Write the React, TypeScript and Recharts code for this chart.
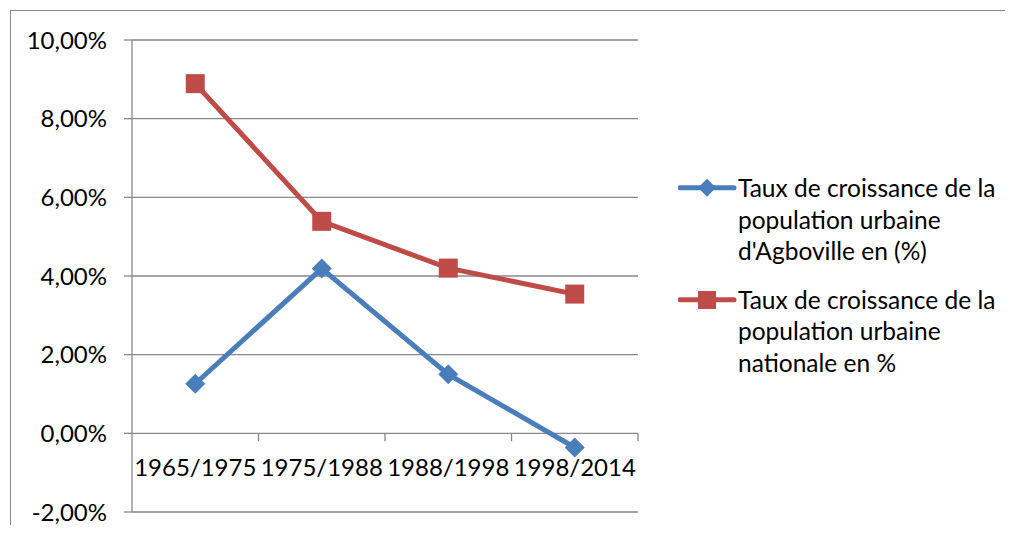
import React from 'react';
import { LineChart, Line, XAxis, YAxis, CartesianGrid, Legend, ReferenceLine } from 'recharts';

const categories = ['1965/1975', '1975/1988', '1988/1998', '1998/2014'];
const agboville = [1.26, 4.19, 1.5, -0.36];
const nationale = [8.89, 5.39, 4.2, 3.54];
const yTicks = [-2, 0, 2, 4, 6, 8, 10];
const seriesNames = {
  agboville: "Taux de croissance de la population urbaine d'Agboville en (%)",
  nationale: 'Taux de croissance de la population urbaine nationale en %',
};

const BLUE = '#4A7EBB';
const RED = '#BE4B48';
const GRID = '#888888';
const FONT = 'Lato, "Open Sans", sans-serif';

const data = categories.map((c, i) => ({ cat: c, agboville: agboville[i], nationale: nationale[i] }));

const fmt = (v: number) => v.toFixed(2).replace('.', ',') + '%';

const Diamond = (props: any) => {
  const { cx, cy, index } = props;
  if (cx == null || cy == null) return <g key={index} />;
  const r = 10;
  return (
    <polygon
      key={index}
      points={`${cx},${cy - r} ${cx + r},${cy} ${cx},${cy + r} ${cx - r},${cy}`}
      fill={BLUE}
    />
  );
};

const Square = (props: any) => {
  const { cx, cy, index } = props;
  if (cx == null || cy == null) return <g key={index} />;
  const s = 19;
  return <rect key={index} x={cx - s / 2} y={cy - s / 2} width={s} height={s} fill={RED} />;
};

const CatTick = (props: any) => {
  const { x, y, payload } = props;
  return (
    <text x={x} y={y - 46} textAnchor="middle" dominantBaseline="central" fontSize={24} fill="#000" fontFamily={FONT}>
      {payload.value}
    </text>
  );
};

const LegendContent = (props: any) => {
  const payload = props.payload || [];
  return (
    <div style={{ fontFamily: FONT }}>
      {payload.map((p: any, i: number) => {
        const key = p.dataKey as 'agboville' | 'nationale';
        const color = key === 'agboville' ? BLUE : RED;
        return (
          <div key={i} style={{ display: 'flex', alignItems: 'flex-start', marginBottom: 17 }}>
            <svg width={60} height={31.5} style={{ flex: 'none' }}>
              <line x1={2} y1={15.75} x2={56} y2={15.75} stroke={color} strokeWidth={5} strokeLinecap="round" />
              {key === 'agboville' ? (
                <polygon points={`29,6.75 38,15.75 29,24.75 20,15.75`} fill={color} />
              ) : (
                <rect x={20} y={7} width={18} height={18} fill={color} />
              )}
            </svg>
            <div style={{ width: 270, fontSize: 24.5, lineHeight: '31.5px', color: '#000', whiteSpace: 'normal' }}>
              {seriesNames[key]}
            </div>
          </div>
        );
      })}
    </div>
  );
};

export default function App() {
  return (
    <div style={{ position: 'relative', width: 1005, height: 517, fontFamily: FONT }}>
      <style>{'html,body{overflow:hidden;}'}</style>
      <div
        style={{
          position: 'absolute',
          left: 2,
          top: 2,
          width: 1200,
          height: 700,
          border: '1.5px solid #8a8a8a',
          boxSizing: 'border-box',
        }}
      />
      <LineChart width={1005} height={517} data={data} margin={{ top: 32, right: 375, bottom: 12, left: 0 }}>
        <CartesianGrid vertical={false} stroke={GRID} strokeWidth={1.3} />
        <XAxis
          dataKey="cat"
          scale="band"
          height={1}
          axisLine={false}
          tickLine={false}
          tickSize={0}
          tickMargin={0}
          tick={<CatTick />}
          interval={0}
        />
        <YAxis
          width={124}
          domain={[-2, 10]}
          ticks={yTicks}
          tickFormatter={fmt}
          axisLine={{ stroke: GRID, strokeWidth: 1.3 }}
          tickLine={{ stroke: GRID, strokeWidth: 1.3 }}
          tickSize={8}
          tickMargin={17}
          tick={{ fontSize: 24, fill: '#000', fontFamily: FONT }}
          interval={0}
        />
        {categories.map((c) => (
          <ReferenceLine
            key={c}
            segment={[{ x: c, y: 0 }, { x: c, y: -0.2 }]}
            position="end"
            stroke={GRID}
            strokeWidth={1.3}
            ifOverflow="visible"
          />
        ))}
        <Line
          type="linear"
          dataKey="agboville"
          stroke={BLUE}
          strokeWidth={5}
          dot={Diamond}
          activeDot={false}
          isAnimationActive={false}
        />
        <Line
          type="linear"
          dataKey="nationale"
          stroke={RED}
          strokeWidth={5}
          dot={Square}
          activeDot={false}
          isAnimationActive={false}
        />
        <Legend
          layout="vertical"
          align="center"
          verticalAlign="middle"
          content={<LegendContent />}
          wrapperStyle={{ left: 670, top: 164, width: 332 }}
        />
      </LineChart>
    </div>
  );
}
